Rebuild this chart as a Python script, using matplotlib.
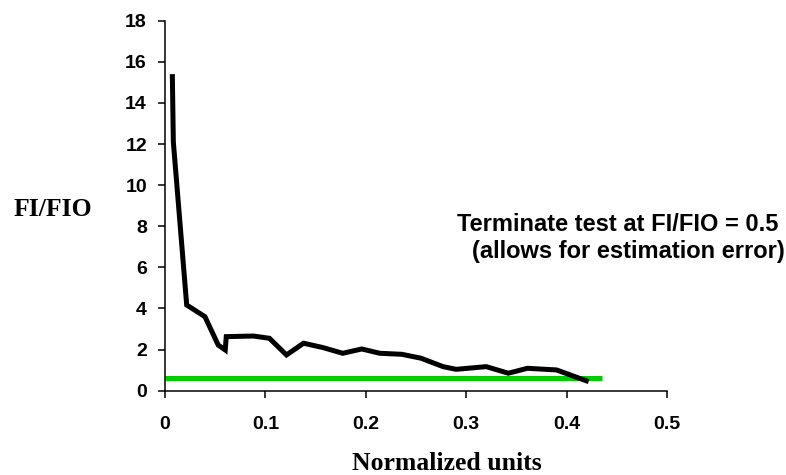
import matplotlib
matplotlib.use("Agg")
import matplotlib.pyplot as plt
from matplotlib.font_manager import FontProperties

# values
norm_units = [0.0073, 0.0083, 0.0216, 0.0398, 0.053, 0.060, 0.061, 0.088, 0.104,
              0.121, 0.138, 0.158, 0.177, 0.196, 0.214, 0.236, 0.255, 0.277,
              0.290, 0.320, 0.342, 0.361, 0.390, 0.422]
fi_fio = [15.4, 12.1, 4.17, 3.6, 2.22, 1.98, 2.63, 2.66, 2.55,
          1.74, 2.31, 2.09, 1.82, 2.03, 1.82, 1.77, 1.58, 1.17,
          1.04, 1.17, 0.85, 1.09, 1.01, 0.44]
threshold_x = [0.0, 0.435]
threshold_y = [0.6, 0.6]
x_ticks = [0, 0.1, 0.2, 0.3, 0.4, 0.5]
x_labels = ["0", "0.1", "0.2", "0.3", "0.4", "0.5"]
y_ticks = list(range(0, 19, 2))
note_lines = ["Terminate test at FI/FIO = 0.5", "(allows for estimation error)"]

W, H = 786, 475
fig = plt.figure(figsize=(W / 100, H / 100), dpi=100)
ax = fig.add_axes([165 / W, 1 - 390.7 / H, (667 - 165) / W, (390.7 - 20.7) / H])

ax.plot(norm_units, fi_fio, color="black", lw=3.6, solid_capstyle="butt",
        solid_joinstyle="miter", zorder=3)
ax.plot(threshold_x, threshold_y, color="#00cc00", lw=3.6,
        solid_capstyle="butt", zorder=2)

ax.set_xlim(0, 0.5)
ax.set_ylim(0, 18)
ax.set_xticks(x_ticks)
ax.set_xticklabels(x_labels)
ax.set_yticks(y_ticks)

for s in ["top", "right"]:
    ax.spines[s].set_visible(False)
for s in ["left", "bottom"]:
    ax.spines[s].set_linewidth(1.1)

tick_fp = FontProperties(family="Liberation Sans", weight="bold", size=14)
ax.tick_params(axis="both", direction="out", length=5, width=1.1)
ax.tick_params(axis="y", pad=8)
ax.tick_params(axis="x", pad=13)
for lab in ax.get_xticklabels() + ax.get_yticklabels():
    lab.set_fontproperties(tick_fp)

serif = dict(family="Liberation Serif", weight="bold", size=18.5)
fig.text(53 / W, 1 - 210 / H, "FI/FIO", ha="center", va="center", **serif)
fig.text(447 / W, 1 - 463 / H, "Normalized units", ha="center", va="center", **serif)

note = dict(family="Liberation Sans", weight="bold", size=17, ha="right", va="baseline")
fig.text(778 / W, 1 - 231 / H, note_lines[0], **note)
fig.text(785 / W, 1 - 258 / H, note_lines[1], **note)

fig.savefig("out.png", dpi=100)
